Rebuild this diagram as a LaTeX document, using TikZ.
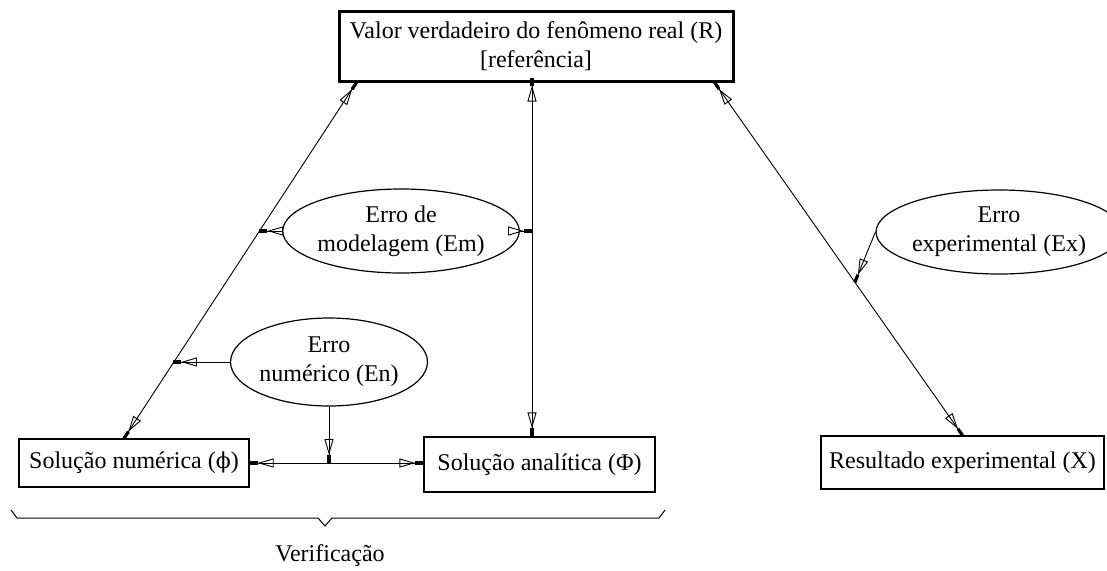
\documentclass[tikz,border=0pt]{standalone}
\usepackage{fontspec}
\setmainfont{Liberation Serif}
\newfontfamily\dvserif{DejaVu Serif}
\usetikzlibrary{arrows.meta,shapes.geometric,calc}
\tikzset{
  featherarrow/.tip={Triangle[open,length=16pt,width=9pt,line width=0.9pt] Rectangle[length=8pt,width=3.2pt]},
  txt/.style={font=\fontsize{24}{29}\selectfont, align=center, inner sep=0pt},
  box/.style={txt, draw, line width=1.3pt},
  ell/.style={txt, draw, ellipse, line width=1.2pt},
  con/.style={line width=0.9pt}
}
\begin{document}
\begin{tikzpicture}[x=1pt,y=-1pt]
\useasboundingbox (0,0) rectangle (1107,570);
% nodes
\node[box, line width=3pt, minimum width=394pt, minimum height=70pt] (R) at (536,46)
  {Valor verdadeiro do fenômeno real (R)\\{}{[}referência{]}};
\node[box, minimum width=230pt, minimum height=48pt] (num) at (134,463)
  {Solução numérica ({\dvserif\fontsize{22}{29}\selectfont ϕ})};
\node[box, minimum width=231pt, minimum height=55pt] (ana) at (539.5,464.5)
  {Solução analítica (Φ)};
\node[box, minimum width=283pt, minimum height=53pt] (res) at (962.5,462.5)
  {Resultado experimental (X)};
\node[ell, minimum width=204pt, minimum height=84pt] (Em) at (401,231)
  {Erro de\\modelagem (Em)};
\node[ell, minimum width=171pt, minimum height=88pt] (En) at (329,362)
  {Erro\\numérico (En)};
\node[ell, minimum width=212pt, minimum height=84pt] (Ex) at (999,232)
  {Erro\\experimental (Ex)};
\node[txt] (ver) at (330,556) {Verificação};
% helper coordinates
\coordinate (a1) at ([xshift=19pt]R.south west);
\coordinate (a2) at ([xshift=-10pt]num.north);
\coordinate (vx) at (532,0);
\coordinate (b1) at ([xshift=-20pt]R.south east);
\coordinate (b2) at (res.north);
\coordinate (pEm) at ($(a2)!0.5815!(a1)$);
\coordinate (pEn) at ($(a2)!0.2107!(a1)$);
\coordinate (pEx) at ($(b1)!0.566!(b2)$);
\coordinate (J) at (En.south |- num.east);
% connectors
\draw[con, {featherarrow}-{featherarrow}] (a2) -- (a1);
\draw[con, {featherarrow}-{featherarrow}] ([yshift=5pt]R.south -| vx) -- (ana.north -| vx);
\draw[con, {featherarrow}-{featherarrow}] (b1) -- (b2);
\draw[con, -{featherarrow}] (Em.west) -- (Em.west -| pEm);
\draw[con, -{featherarrow}] (Em.east) -- (Em.east -| vx);
\draw[con, -{featherarrow}] (En.west) -- (En.west -| pEn);
\draw[con, -{featherarrow}] (En.south) -- (J);
\draw[con, -{featherarrow}] (J) -- (num.east);
\draw[con, -{featherarrow}] (J) -- (J -| ana.west);
\draw[con, -{featherarrow}] (Ex.west) -- (pEx);
% brace
\draw[line width=1pt] (11,510) -- (17,518) -- (318,518) -- (325,526) -- (332,518) -- (659,518) -- (665,510);
\end{tikzpicture}
\end{document}
